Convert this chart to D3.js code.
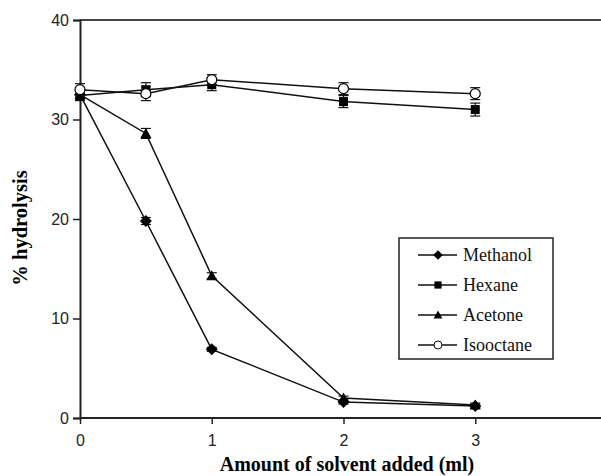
<!DOCTYPE html>
<html>
<head>
<meta charset="utf-8">
<script src="https://cdn.jsdelivr.net/npm/d3@7"></script>
<style>
  body { margin: 0; background: #fff; }
  svg { display: block; }
</style>
</head>
<body>
<div id="chart"></div>
<script>
// CONSTANTS
const WIDTH = 601;
const HEIGHT = 476;

// DATA
const xValues = [0, 0.5, 1, 2, 3];
const xTicks = [0, 1, 2, 3, 4];
const yTicks = [0, 10, 20, 30, 40];
const seriesNames = ["Methanol", "Hexane", "Acetone", "Isooctane"];
const methanol = [32.5, 19.8, 6.9, 1.6, 1.2];
const methanolErr = [0.4, 0.35, 0.2, 0.2, 0.2];
const hexane = [32.4, 33.0, 33.5, 31.8, 31.0];
const hexaneErr = [0.5, 0.7, 0.6, 0.6, 0.65];
const acetone = [32.5, 28.6, 14.3, 2.0, 1.3];
const acetoneErr = [0.4, 0.5, 0.3, 0.2, 0.2];
const isooctane = [33.0, 32.6, 34.0, 33.1, 32.6];
const isooctaneErr = [0.6, 0.7, 0.5, 0.6, 0.6];

const series = [
  { name: seriesNames[0], values: methanol, err: methanolErr, marker: "diamond" },
  { name: seriesNames[1], values: hexane, err: hexaneErr, marker: "square" },
  { name: seriesNames[2], values: acetone, err: acetoneErr, marker: "triangle" },
  { name: seriesNames[3], values: isooctane, err: isooctaneErr, marker: "circle" },
];

const svg = d3.select("#chart")
  .append("svg")
  .attr("width", WIDTH)
  .attr("height", HEIGHT);

const x = d3.scaleLinear().domain([0, 4]).range([80, 607]);
const y = d3.scaleLinear().domain([0, 40]).range([418, 20]);

// top frame line
svg.append("line")
  .attr("x1", x(0)).attr("x2", WIDTH)
  .attr("y1", y(40)).attr("y2", y(40))
  .attr("stroke", "#444").attr("stroke-width", 2);

// axes
const xAxis = svg.append("g")
  .attr("transform", `translate(0,${y(0)})`)
  .call(d3.axisBottom(x).tickValues(xTicks).tickSize(6).tickPadding(11).tickFormat(d3.format("d")));
xAxis.select(".domain").attr("d", `M${x(0)},0H${WIDTH}`);

const yAxis = svg.append("g")
  .attr("transform", `translate(${x(0)},0)`)
  .call(d3.axisLeft(y).tickValues(yTicks).tickSize(7).tickPadding(4));

svg.selectAll(".domain").attr("stroke", "#222").attr("stroke-width", 2);
svg.selectAll(".tick line").attr("stroke", "#222").attr("stroke-width", 1.5);
svg.selectAll(".tick text")
  .attr("font-family", "Liberation Sans, Arial, sans-serif")
  .attr("font-size", 16)
  .attr("fill", "#222");

// axis titles
svg.append("text")
  .attr("x", 347).attr("y", 471)
  .attr("text-anchor", "middle")
  .attr("font-family", "Liberation Serif, Times New Roman, serif")
  .attr("font-weight", "bold")
  .attr("font-size", 20)
  .text("Amount of solvent added (ml)");

svg.append("text")
  .attr("transform", "translate(27,228) rotate(-90)")
  .attr("text-anchor", "middle")
  .attr("font-family", "Liberation Serif, Times New Roman, serif")
  .attr("font-weight", "bold")
  .attr("font-size", 20.5)
  .text("% hydrolysis");

// markers
const drawMarker = (g, type) => {
  if (type === "diamond") {
    g.append("path").attr("d", "M0,-6L6,0L0,6L-6,0Z").attr("fill", "#000");
  } else if (type === "square") {
    g.append("rect").attr("x", -4.5).attr("y", -4.5).attr("width", 9).attr("height", 9).attr("fill", "#000");
  } else if (type === "triangle") {
    g.append("path").attr("d", "M0,-5.5L5.5,4.5L-5.5,4.5Z").attr("fill", "#000");
  } else {
    g.append("circle").attr("r", 5).attr("fill", "#fff").attr("stroke", "#000").attr("stroke-width", 1.2);
  }
};

const line = d3.line()
  .x((d, i) => x(xValues[i]))
  .y(d => y(d));

const plot = svg.append("g");

series.forEach(s => {
  plot.append("path")
    .datum(s.values)
    .attr("d", line)
    .attr("fill", "none")
    .attr("stroke", "#111")
    .attr("stroke-width", 1.5);
});

series.forEach(s => {
  s.values.forEach((v, i) => {
    const cx = x(xValues[i]);
    const eg = plot.append("g").attr("stroke", "#111").attr("stroke-width", 1.2);
    eg.append("line").attr("x1", cx).attr("x2", cx).attr("y1", y(v - s.err[i])).attr("y2", y(v + s.err[i]));
    eg.append("line").attr("x1", cx - 5).attr("x2", cx + 5).attr("y1", y(v - s.err[i])).attr("y2", y(v - s.err[i]));
    eg.append("line").attr("x1", cx - 5).attr("x2", cx + 5).attr("y1", y(v + s.err[i])).attr("y2", y(v + s.err[i]));
    const mg = plot.append("g").attr("transform", `translate(${cx},${y(v)})`);
    drawMarker(mg, s.marker);
  });
});

// legend
const legend = svg.append("g").attr("transform", "translate(399,238)");
legend.append("rect")
  .attr("width", 154).attr("height", 121)
  .attr("fill", "#fff").attr("stroke", "#222").attr("stroke-width", 1.5);

series.forEach((s, i) => {
  const ly = 17 + i * 30;
  const row = legend.append("g").attr("transform", `translate(0,${ly})`);
  row.append("line").attr("x1", 19).attr("x2", 58).attr("y1", 0).attr("y2", 0)
    .attr("stroke", "#111").attr("stroke-width", 1.5);
  const mg = row.append("g").attr("transform", "translate(39,0) scale(0.8)");
  drawMarker(mg, s.marker);
  row.append("text")
    .attr("x", 64).attr("y", 6)
    .attr("font-family", "Liberation Serif, Times New Roman, serif")
    .attr("font-size", 18)
    .attr("fill", "#111")
    .text(s.name);
});
</script>
</body>
</html>
